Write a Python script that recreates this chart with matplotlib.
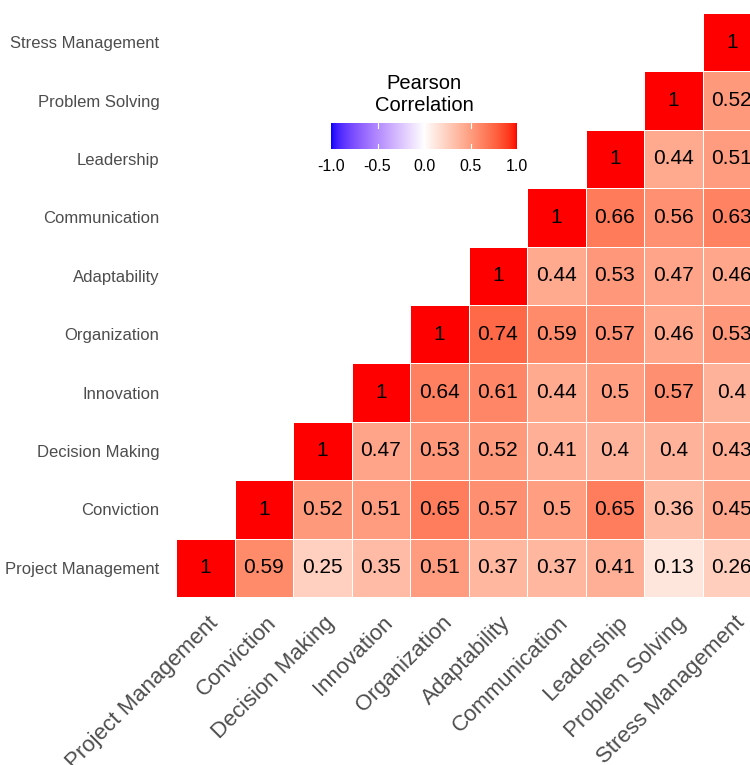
import numpy as np
import matplotlib
matplotlib.use("Agg")
import matplotlib.pyplot as plt
from matplotlib.colors import ListedColormap
from matplotlib.transforms import ScaledTranslation

plt.rcParams['font.family'] = ['Liberation Sans', 'DejaVu Sans']

labels = ["Project Management", "Conviction", "Decision Making", "Innovation",
          "Organization", "Adaptability", "Communication", "Leadership",
          "Problem Solving", "Stress Management"]

# upper-triangle rows (row label -> values for columns from the diagonal rightwards)
row_pm   = [1, 0.59, 0.25, 0.35, 0.51, 0.37, 0.37, 0.41, 0.13, 0.26]
row_conv = [1, 0.52, 0.51, 0.65, 0.57, 0.50, 0.65, 0.36, 0.45]
row_dm   = [1, 0.47, 0.53, 0.52, 0.41, 0.40, 0.40, 0.43]
row_inn  = [1, 0.64, 0.61, 0.44, 0.50, 0.57, 0.40]
row_org  = [1, 0.74, 0.59, 0.57, 0.46, 0.53]
row_ada  = [1, 0.44, 0.53, 0.47, 0.46]
row_com  = [1, 0.66, 0.56, 0.63]
row_lead = [1, 0.44, 0.51]
row_ps   = [1, 0.52]
row_sm   = [1]
rows = [row_pm, row_conv, row_dm, row_inn, row_org, row_ada, row_com, row_lead, row_ps, row_sm]

n = len(labels)
M = np.full((n, n), np.nan)
for r, vals in enumerate(rows):
    for k, v in enumerate(vals):
        M[r, r + k] = v

# Lab-interpolated diverging palette blue - white - red (like ggplot2 gradient2)
def srgb_to_lab(rgb):
    rgb = np.asarray(rgb, float)
    lin = np.where(rgb <= 0.04045, rgb / 12.92, ((rgb + 0.055) / 1.055) ** 2.4)
    Mx = np.array([[0.4124564, 0.3575761, 0.1804375],
                   [0.2126729, 0.7151522, 0.0721750],
                   [0.0193339, 0.1191920, 0.9503041]])
    xyz = Mx @ lin
    xyz = xyz / np.array([0.95047, 1.0, 1.08883])
    f = np.where(xyz > (6/29)**3, np.cbrt(xyz), xyz / (3*(6/29)**2) + 4/29)
    return np.array([116*f[1] - 16, 500*(f[0]-f[1]), 200*(f[1]-f[2])])

def lab_to_srgb(lab):
    L, a, b = lab
    fy = (L + 16) / 116
    fx = fy + a / 500
    fz = fy - b / 200
    f = np.array([fx, fy, fz])
    xyz = np.where(f > 6/29, f**3, 3*(6/29)**2*(f - 4/29))
    xyz = xyz * np.array([0.95047, 1.0, 1.08883])
    Minv = np.array([[3.2404542, -1.5371385, -0.4985314],
                     [-0.9692660, 1.8760108, 0.0415560],
                     [0.0556434, -0.2040259, 1.0572252]])
    lin = Minv @ xyz
    lin = np.clip(lin, 0, 1)
    rgb = np.where(lin <= 0.0031308, 12.92*lin, 1.055*lin**(1/2.4) - 0.055)
    return np.clip(rgb, 0, 1)

lab_b = srgb_to_lab([0, 0, 1]); lab_w = srgb_to_lab([1, 1, 1]); lab_r = srgb_to_lab([1, 0, 0])
cols = []
for t in np.linspace(-1, 1, 257):
    if t < 0:
        lab = lab_w + (-t) * (lab_b - lab_w)
    else:
        lab = lab_w + t * (lab_r - lab_w)
    cols.append(lab_to_srgb(lab))
cmap = ListedColormap(cols)

fig = plt.figure(figsize=(7.5, 7.65), dpi=100)
ax = fig.add_axes([176/750, (765-597)/765, 585/750, 584/765])
Mm = np.ma.masked_invalid(M)
ax.pcolormesh(np.arange(n+1), np.arange(n+1), Mm, cmap=cmap, vmin=-1, vmax=1,
              edgecolors='white', linewidth=0.6)
for r in range(n):
    for c in range(n):
        v = M[r, c]
        if not np.isnan(v):
            ax.text(c + 0.5, r + 0.5, f"{round(v, 2):g}", ha='center', va='center',
                    fontsize=15, color='black')
ax.set_xlim(0, n); ax.set_ylim(0, n)
for s in ax.spines.values():
    s.set_visible(False)
ax.set_xticks(np.arange(n) + 0.5)
ax.set_yticks(np.arange(n) + 0.5)
ax.set_xticklabels(labels, rotation=45, ha='right', va='top', rotation_mode='anchor',
                   fontsize=16, color='#4D4D4D')
ax.set_yticklabels(labels, fontsize=12, color='#4D4D4D')
ax.tick_params(axis='x', length=0, pad=11)
ax.tick_params(axis='y', length=0, pad=12)
off = ScaledTranslation(2/100, 0, fig.dpi_scale_trans)
for lab in ax.get_xticklabels():
    lab.set_transform(lab.get_transform() + off)

# colorbar legend
cax = fig.add_axes([331/750, (765-149)/765, 186/750, 26/765])
grad = np.linspace(-1, 1, 256).reshape(1, -1)
cax.imshow(grad, aspect='auto', cmap=cmap, vmin=-1, vmax=1, extent=[-1, 1, 0, 1])
for t in [-0.5, 0.0, 0.5]:
    cax.plot([t, t], [0, 0.2], color='white', lw=0.8)
    cax.plot([t, t], [0.8, 1], color='white', lw=0.8)
cax.set_xlim(-1, 1); cax.set_ylim(0, 1)
for s in cax.spines.values():
    s.set_visible(False)
cax.set_yticks([])
cax.set_xticks([-1, -0.5, 0, 0.5, 1])
cax.set_xticklabels(["-1.0", "-0.5", "0.0", "0.5", "1.0"], fontsize=11.5, color='black')
cax.tick_params(axis='x', length=0, pad=7)
fig.text(424/750, 1 - 115/765, "Pearson\nCorrelation", ha='center', va='bottom',
         multialignment='center', fontsize=14.5, color='black', linespacing=1.2)

fig.savefig("out.png", dpi=100)
